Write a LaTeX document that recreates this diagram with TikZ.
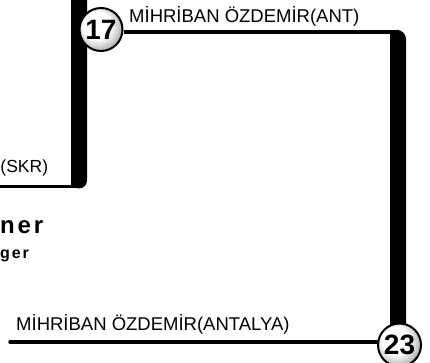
\documentclass[tikz,border=0pt]{standalone}
\usepackage{fontspec}
\setmainfont{Liberation Sans}
\newfontfamily\spacedfont[LetterSpace=12]{Liberation Sans}
\pgfdeclareradialshading{ballshade}{\pgfpoint{-7bp}{7bp}}{color(0bp)=(white); color(16bp)=(white); color(26bp)=(black!25); color(32bp)=(black!60); color(50bp)=(black!60)}
\tikzset{
  thinline/.style={draw=black, line width=3.5pt},
  barfill/.style={fill=black},
  ballnode/.style={circle, draw=black, line width=2pt, minimum size=43pt, inner sep=0pt, shade, shading=ballshade, font=\bfseries\fontsize{28}{28}\selectfont},
  namelabel/.style={inner sep=0pt, font=\fontsize{18.5}{20}\selectfont},
}
\begin{document}
\begin{tikzpicture}[x=1pt,y=-1pt]
\useasboundingbox (0,0) rectangle (430,363);
% thick bars
\fill[barfill, rounded corners=8pt] (71,-20) rectangle (87,188.5);
\fill[barfill] (71,170) rectangle (79,188.5);
\fill[barfill, rounded corners=9pt] (390,30) rectangle (406,340);
\fill[barfill] (390,33) rectangle (396,42);
% connector coordinates
\coordinate (skrEnd) at (0,186.5);
\coordinate (skrJoin) at (80,186.5);
\coordinate (topJoin) at (398,32);
\coordinate (antEnd) at (10,342);
\draw[thinline] (skrEnd) -- (skrJoin);
% circles
\node[ballnode] (c17) at (101,29.5) {17};
\node[ballnode] (c23) at (399.5,345) {23};
\draw[thinline] (c17.east |- topJoin) -- (topJoin);
\draw[thinline, line cap=round] (antEnd) -- (c23.west |- antEnd);
% labels
\node[namelabel, anchor=base west] (lblAnt) at (129,22.5) {MİHRİBAN ÖZDEMİR(ANT)};
\node[namelabel, anchor=base west, font=\fontsize{17.5}{19}\selectfont] (lblSkr) at (0.3,172.5) {(SKR)};
\node[namelabel, anchor=base west] (lblAntalya) at (16,330) {MİHRİBAN ÖZDEMİR(ANTALYA)};
\node[inner sep=0pt, anchor=base west, font=\spacedfont\bfseries\fontsize{24}{26}\selectfont] (lblNer) at (0,233) {ner};
\node[inner sep=0pt, anchor=base west, font=\spacedfont\bfseries\fontsize{16}{18}\selectfont] (lblGer) at (0,258) {ger};
\end{tikzpicture}
\end{document}
